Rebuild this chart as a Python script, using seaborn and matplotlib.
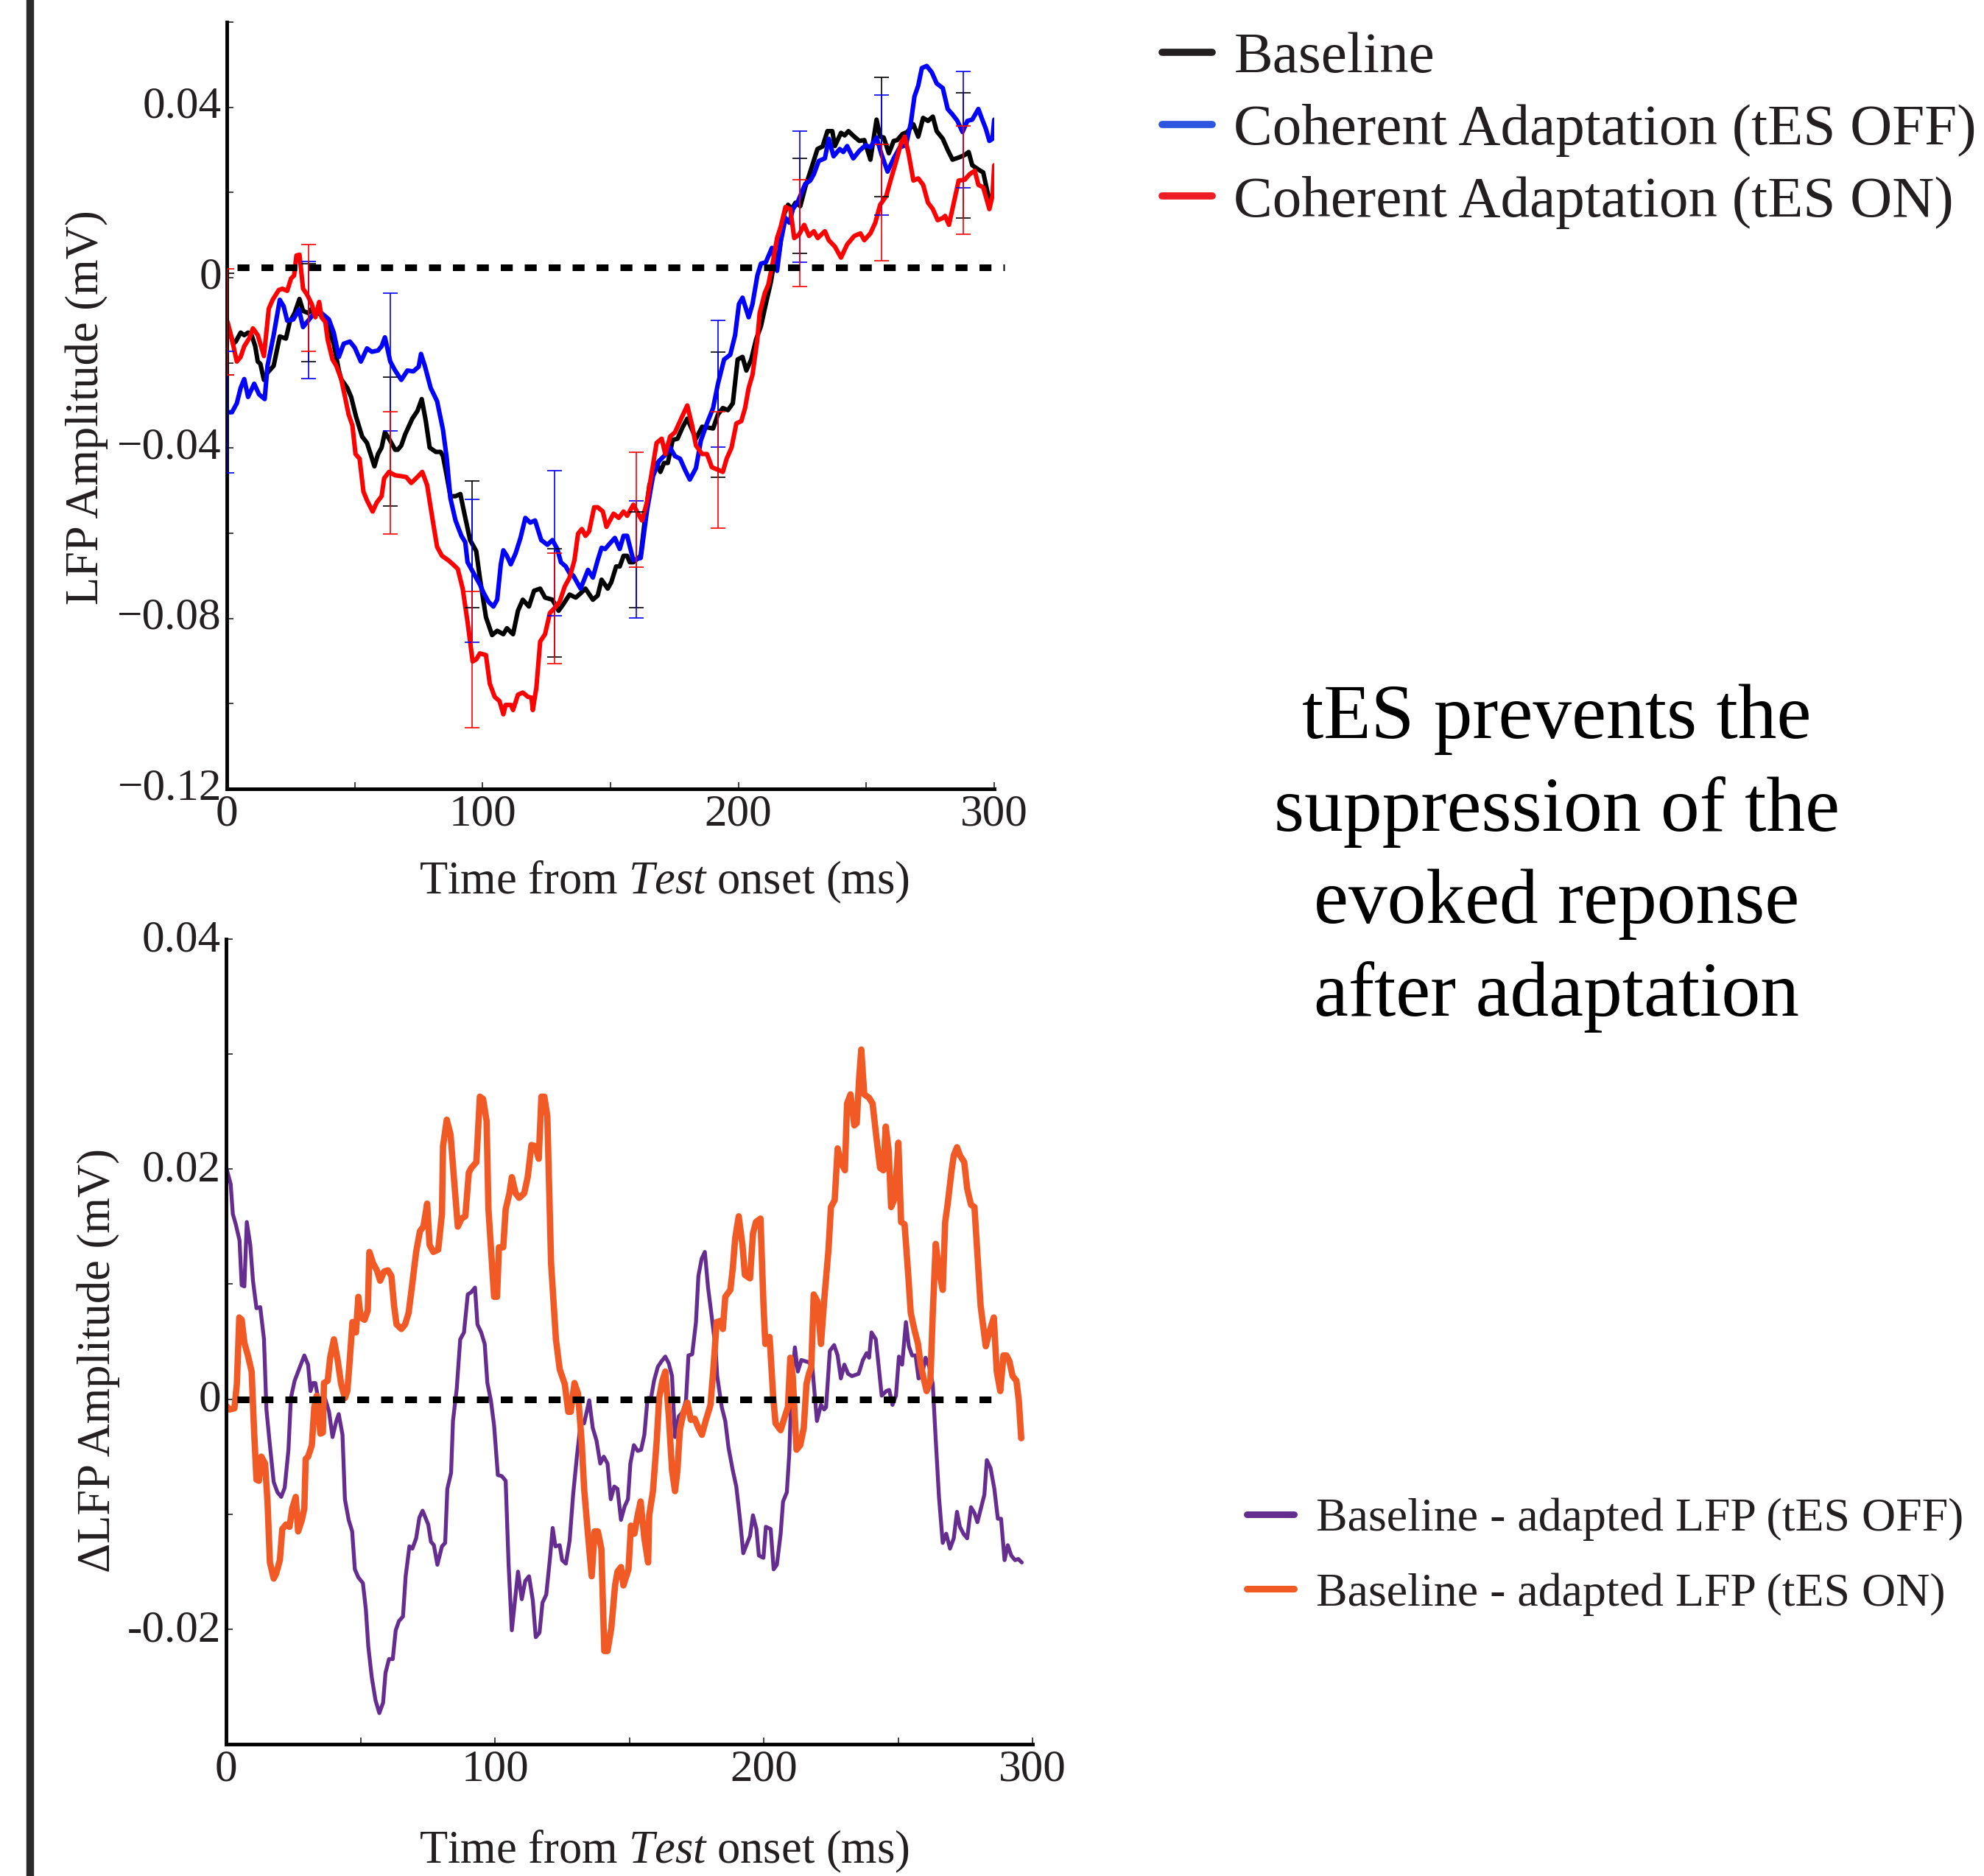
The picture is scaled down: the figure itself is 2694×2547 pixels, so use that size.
import numpy as np
import matplotlib
matplotlib.use("Agg")
import matplotlib.pyplot as plt
from matplotlib.lines import Line2D
from matplotlib.transforms import ScaledTranslation
import seaborn as sns

# ---------------- evoked LFP (mV) ----------------
t_base = [0.3, 2.5, 3.5, 5.4, 6.8, 8.3, 9.7, 11.1, 12.1, 13.1, 14.5, 15.9, 18.3, 20.7, 23.1, 24.6, 26.5,
          28.4, 29.8, 31.8, 33.2, 34.2, 35.6, 37.0, 38.5, 39.9, 41.8, 43.8, 44.7, 47.1, 48.6, 50.5, 52.9,
          54.8, 56.2, 57.7, 59.1, 60.5, 61.8, 63.4, 65.8, 66.8, 68.2, 69.7, 72.5, 74.5, 76.2, 77.8, 79.3,
          81.7, 83.6, 84.5, 86.0, 87.4, 89.4, 91.3, 92.7, 95.1, 97.5, 98.9, 101.3, 103.7, 105.7, 108.1,
          109.5, 111.9, 113.8, 115.7, 118.1, 120.1, 122.5, 124.4, 127.3, 129.7, 131.6, 134.0, 136.4,
          138.3, 140.2, 143.1, 145.0, 146.5, 148.9, 150.3, 152.2, 153.6, 155.1, 156.5, 157.5, 158.9,
          161.8, 163.2, 165.2, 168.0, 169.5, 170.9, 172.4, 174.3, 176.2, 178.1, 180.0, 181.9, 183.4,
          185.8, 188.2, 190.1, 192.0, 193.9, 195.9, 197.8, 199.7, 201.6, 203.1, 205.0, 206.9, 208.8,
          210.7, 212.7, 214.1, 216.0, 217.9, 219.4, 220.8, 222.3, 224.2, 226.1, 228.1, 230.9, 232.9,
          234.8, 236.7, 237.7, 240.1, 241.5, 243.0, 245.3, 247.3, 249.2, 251.6, 254.0, 255.4, 256.8,
          258.8, 260.7, 262.1, 264.1, 266.0, 268.4, 270.3, 272.2, 274.1, 276.0, 277.5, 279.9, 281.8,
          283.7, 286.1, 288.5, 290.0, 291.4, 293.8, 295.7, 298.1, 299.3, 300.0]
lfp_base = [-0.0109, -0.0155, -0.0150, -0.0129, -0.0135, -0.0129, -0.0135, -0.0161, -0.0197, -0.0202,
            -0.0240, -0.0223, -0.0207, -0.0138, -0.0143, -0.0104, -0.0083, -0.0050, -0.0078, -0.0083,
            -0.0073, -0.0088, -0.0083, -0.0088, -0.0098, -0.0124, -0.0155, -0.0218, -0.0238, -0.0259,
            -0.0280, -0.0326, -0.0373, -0.0388, -0.0414, -0.0443, -0.0414, -0.0399, -0.0363, -0.0378,
            -0.0404, -0.0404, -0.0394, -0.0368, -0.0331, -0.0313, -0.0285, -0.0337, -0.0399, -0.0409,
            -0.0409, -0.0419, -0.0466, -0.0513, -0.0513, -0.0508, -0.0549, -0.0616, -0.0642, -0.0704,
            -0.0797, -0.0839, -0.0829, -0.0837, -0.0823, -0.0837, -0.0782, -0.0756, -0.0772, -0.0735,
            -0.0730, -0.0751, -0.0756, -0.0782, -0.0766, -0.0744, -0.0751, -0.0741, -0.0730, -0.0756,
            -0.0746, -0.0709, -0.0730, -0.0715, -0.0678, -0.0678, -0.0653, -0.0653, -0.0668, -0.0668,
            -0.0653, -0.0580, -0.0487, -0.0435, -0.0456, -0.0435, -0.0435, -0.0381, -0.0378, -0.0352,
            -0.0331, -0.0357, -0.0378, -0.0350, -0.0352, -0.0354, -0.0321, -0.0306, -0.0311, -0.0295,
            -0.0192, -0.0186, -0.0218, -0.0192, -0.0145, -0.0114, -0.0062, -0.0010, 0.0041, 0.0062,
            0.0150, 0.0171, 0.0161, 0.0176, 0.0168, 0.0212, 0.0249, 0.0302, 0.0308, 0.0344, 0.0344,
            0.0309, 0.0340, 0.0334, 0.0344, 0.0331, 0.0321, 0.0323, 0.0277, 0.0371, 0.0331, 0.0329,
            0.0292, 0.0321, 0.0323, 0.0337, 0.0342, 0.0360, 0.0331, 0.0375, 0.0368, 0.0378, 0.0344,
            0.0326, 0.0300, 0.0277, 0.0282, 0.0288, 0.0295, 0.0264, 0.0254, 0.0247, 0.0181, 0.0192,
            0.0228]

t_off = [0.3, 2.0, 3.9, 5.4, 6.8, 8.3, 10.7, 12.6, 14.8, 15.9, 18.3, 20.7, 22.2, 23.6, 26.0, 28.2, 29.8,
         32.2, 34.2, 37.0, 39.9, 41.8, 43.8, 45.7, 48.1, 50.0, 52.4, 54.8, 56.7, 59.1, 60.5, 61.8, 63.9,
         65.8, 68.2, 70.6, 72.9, 75.0, 75.9, 77.4, 79.7, 82.2, 84.5, 86.0, 87.4, 89.4, 91.7, 93.2, 94.1,
         96.5, 98.9, 100.4, 102.3, 104.2, 105.7, 107.1, 108.1, 109.5, 111.0, 112.9, 114.8, 116.7, 118.6,
         120.5, 122.9, 125.3, 127.3, 129.2, 130.6, 132.5, 134.0, 135.4, 136.9, 138.3, 139.7, 141.2,
         143.1, 145.0, 146.5, 147.9, 149.3, 151.7, 153.6, 155.1, 156.5, 158.9, 161.8, 164.2, 166.6,
         169.0, 171.4, 173.3, 175.2, 177.2, 179.1, 181.0, 183.4, 185.3, 187.7, 190.1, 192.0, 194.4,
         196.8, 198.7, 200.2, 201.6, 204.0, 205.5, 207.4, 208.8, 210.7, 213.1, 215.1, 216.5, 218.4,
         219.9, 221.3, 223.2, 226.1, 228.1, 229.5, 231.4, 233.8, 235.3, 237.2, 239.6, 241.0, 242.5,
         244.9, 247.3, 249.7, 251.6, 254.0, 255.9, 258.3, 260.7, 263.1, 265.5, 267.4, 268.8, 270.3,
         271.7, 273.6, 275.6, 277.5, 279.9, 281.8, 283.7, 285.6, 287.6, 289.5, 291.4, 293.8, 295.2,
         296.7, 298.1, 299.3, 300.0]
lfp_off = [-0.0316, -0.0316, -0.0295, -0.0259, -0.0238, -0.0280, -0.0249, -0.0274, -0.0285, -0.0207,
           -0.0135, -0.0052, -0.0067, -0.0101, -0.0098, -0.0075, -0.0116, -0.0098, -0.0083, -0.0083,
           -0.0098, -0.0129, -0.0186, -0.0155, -0.0150, -0.0164, -0.0197, -0.0166, -0.0174, -0.0171,
           -0.0161, -0.0140, -0.0197, -0.0218, -0.0240, -0.0218, -0.0220, -0.0209, -0.0179, -0.0207,
           -0.0259, -0.0290, -0.0357, -0.0425, -0.0518, -0.0570, -0.0606, -0.0621, -0.0668, -0.0694,
           -0.0720, -0.0740, -0.0761, -0.0772, -0.0756, -0.0673, -0.0640, -0.0653, -0.0673, -0.0647,
           -0.0611, -0.0564, -0.0575, -0.0570, -0.0616, -0.0627, -0.0616, -0.0637, -0.0668, -0.0678,
           -0.0694, -0.0699, -0.0715, -0.0730, -0.0709, -0.0686, -0.0704, -0.0663, -0.0634, -0.0637,
           -0.0627, -0.0611, -0.0637, -0.0606, -0.0606, -0.0663, -0.0658, -0.0549, -0.0466, -0.0430,
           -0.0416, -0.0399, -0.0419, -0.0425, -0.0451, -0.0474, -0.0447, -0.0383, -0.0342, -0.0306,
           -0.0249, -0.0192, -0.0181, -0.0135, -0.0062, -0.0047, -0.0093, -0.0062, 0.0005, 0.0033,
           0.0036, 0.0070, 0.0016, 0.0083, 0.0140, 0.0129, 0.0161, 0.0178, 0.0220, 0.0228, 0.0243,
           0.0274, 0.0280, 0.0326, 0.0285, 0.0302, 0.0295, 0.0309, 0.0280, 0.0298, 0.0311, 0.0306,
           0.0329, 0.0290, 0.0249, 0.0280, 0.0306, 0.0311, 0.0363, 0.0425, 0.0451, 0.0492, 0.0497,
           0.0482, 0.0456, 0.0445, 0.0396, 0.0383, 0.0368, 0.0342, 0.0368, 0.0371, 0.0396, 0.0373,
           0.0350, 0.0321, 0.0326, 0.0371]

t_on = [0.3, 2.0, 3.9, 5.4, 6.8, 8.7, 10.2, 12.1, 14.5, 16.4, 17.9, 20.3, 21.7, 23.6, 25.1, 26.3, 27.2,
        28.4, 29.8, 31.3, 33.2, 34.6, 36.1, 37.0, 38.5, 39.4, 41.3, 42.8, 44.7, 46.2, 47.6, 49.1, 50.3,
        51.9, 53.4, 54.8, 57.0, 58.6, 60.5, 61.5, 63.4, 65.8, 68.2, 70.1, 72.1, 74.5, 76.4, 78.3, 80.2,
        82.2, 84.1, 86.5, 88.4, 90.3, 92.2, 94.1, 96.1, 97.5, 98.9, 101.3, 102.8, 104.7, 106.6, 108.1,
        109.0, 111.0, 111.9, 113.8, 115.7, 117.7, 119.1, 119.6, 121.0, 122.5, 124.4, 126.3, 128.2,
        130.1, 132.1, 134.0, 135.9, 137.3, 138.8, 140.2, 141.6, 143.6, 145.0, 147.0, 148.4, 150.3,
        151.2, 153.2, 155.1, 156.5, 158.9, 160.8, 162.3, 164.2, 166.6, 168.0, 170.0, 171.4, 173.3,
        175.2, 177.6, 180.0, 181.9, 183.4, 185.8, 187.7, 189.6, 192.0, 193.9, 195.4, 197.3, 199.2,
        201.1, 202.6, 204.0, 205.5, 207.4, 208.3, 210.3, 211.7, 213.6, 215.1, 216.5, 218.4, 220.3,
        221.8, 223.7, 225.7, 227.6, 229.5, 231.0, 233.8, 235.3, 237.7, 240.1, 242.5, 245.3, 247.7,
        249.2, 251.6, 253.5, 255.4, 257.8, 259.7, 261.7, 263.6, 265.0, 266.4, 268.4, 270.3, 272.2,
        274.1, 276.0, 277.9, 279.9, 280.8, 282.3, 284.2, 286.1, 288.5, 290.4, 292.4, 293.8, 295.7,
        298.1, 299.3, 300.0]
lfp_on = [-0.0104, -0.0145, -0.0197, -0.0186, -0.0161, -0.0143, -0.0119, -0.0135, -0.0184, -0.0073,
          -0.0052, -0.0029, -0.0026, -0.0031, -0.0002, 0.0005, 0.0052, 0.0054, -0.0026, -0.0039,
          -0.0062, -0.0093, -0.0057, -0.0093, -0.0104, -0.0145, -0.0192, -0.0207, -0.0238, -0.0280,
          -0.0321, -0.0347, -0.0414, -0.0425, -0.0502, -0.0523, -0.0549, -0.0528, -0.0513, -0.0471,
          -0.0456, -0.0464, -0.0466, -0.0468, -0.0482, -0.0468, -0.0456, -0.0487, -0.0559, -0.0632,
          -0.0653, -0.0663, -0.0673, -0.0684, -0.0730, -0.0808, -0.0901, -0.0896, -0.0882, -0.0886,
          -0.0953, -0.0984, -0.0994, -0.1025, -0.1003, -0.1003, -0.1015, -0.0979, -0.0974, -0.0984,
          -0.0986, -0.1015, -0.0963, -0.0854, -0.0837, -0.0787, -0.0775, -0.0761, -0.0725, -0.0704,
          -0.0663, -0.0601, -0.0590, -0.0606, -0.0596, -0.0539, -0.0539, -0.0549, -0.0585, -0.0564,
          -0.0554, -0.0564, -0.0549, -0.0559, -0.0533, -0.0554, -0.0570, -0.0528, -0.0440, -0.0388,
          -0.0378, -0.0414, -0.0373, -0.0363, -0.0331, -0.0300, -0.0347, -0.0394, -0.0414, -0.0414,
          -0.0445, -0.0451, -0.0456, -0.0425, -0.0399, -0.0342, -0.0337, -0.0306, -0.0259, -0.0228,
          -0.0145, -0.0083, -0.0036, -0.0016, 0.0041, 0.0093, 0.0119, 0.0166, 0.0161, 0.0093, 0.0101,
          0.0124, 0.0098, 0.0109, 0.0093, 0.0109, 0.0088, 0.0073, 0.0047, 0.0078, 0.0098, 0.0104,
          0.0088, 0.0104, 0.0129, 0.0171, 0.0192, 0.0233, 0.0274, 0.0316, 0.0331, 0.0295, 0.0228,
          0.0233, 0.0218, 0.0176, 0.0161, 0.0135, 0.0140, 0.0145, 0.0124, 0.0176, 0.0228, 0.0230,
          0.0243, 0.0251, 0.0218, 0.0212, 0.0161, 0.0192, 0.0264]

# error bars: sample times and s.e.m. (mV)
err_t = [0, 32, 64, 96, 128, 160, 192, 224, 256, 288]
sem_base = [0.0120, 0.0115, 0.0151, 0.0149, 0.0127, 0.0112, 0.0147, 0.0111, 0.0140, 0.0147]
sem_off = [0.0143, 0.0137, 0.0162, 0.0168, 0.0170, 0.0138, 0.0149, 0.0154, 0.0141, 0.0137]
sem_on = [0.0125, 0.0126, 0.0144, 0.0160, 0.0130, 0.0135, 0.0137, 0.0125, 0.0136, 0.0127]

# ---------------- difference traces (mV) ----------------
t_diff_off = [0.1, 1.7, 2.5, 3.6, 5.0, 5.8, 6.8, 7.7, 9.0, 10.0, 11.3, 12.7, 14.1, 15.0, 16.3, 17.7,
              19.1, 20.5, 21.8, 23.2, 24.1, 25.5, 27.3, 29.1, 30.5, 31.4, 32.3, 33.2, 34.2, 35.5, 36.9,
              38.3, 39.6, 41.0, 41.9, 43.3, 44.2, 45.6, 46.9, 47.9, 49.2, 50.9, 52.0, 52.9, 54.2, 55.6,
              57.0, 58.4, 59.3, 60.6, 62.0, 63.1, 64.3, 65.8, 66.8, 68.2, 69.3, 70.7, 71.9, 73.1, 75.2,
              76.2, 77.3, 78.6, 80.3, 81.5, 82.3, 83.7, 84.4, 85.8, 87.1, 88.5, 89.9, 91.2, 92.6, 93.5,
              94.9, 96.2, 97.2, 98.5, 99.7, 101.1, 102.6, 104.0, 105.1, 106.3, 107.7, 108.6, 110.0,
              111.3, 112.7, 114.1, 115.2, 116.6, 117.7, 119.1, 120.5, 121.5, 122.5, 124.1, 125.0,
              126.4, 127.8, 129.1, 130.5, 131.9, 133.2, 135.1, 136.4, 137.8, 139.2, 140.5, 141.9,
              143.1, 144.4, 145.6, 146.9, 148.3, 149.5, 150.4, 151.7, 153.1, 154.4, 155.6, 156.8,
              158.1, 159.2, 160.6, 162.0, 163.4, 164.7, 165.9, 167.0, 168.4, 169.9, 171.1, 172.0,
              173.4, 174.8, 175.7, 176.9, 178.1, 179.3, 180.7, 182.1, 182.7, 184.4, 185.7, 186.9,
              188.5, 189.8, 191.2, 192.4, 193.9, 194.9, 196.0, 197.3, 198.2, 199.9, 200.8, 202.6,
              203.7, 204.9, 206.3, 207.2, 208.6, 209.5, 210.4, 211.6, 212.7, 214.0, 215.4, 216.8,
              218.1, 219.8, 221.3, 222.5, 223.2, 224.6, 226.2, 227.5, 228.7, 230.0, 231.4, 232.8,
              235.3, 236.9, 238.3, 239.2, 240.1, 241.7, 242.8, 243.9, 245.6, 246.7, 247.9, 249.2,
              250.3, 251.5, 252.9, 254.0, 255.2, 256.5, 257.6, 258.8, 260.2, 261.6, 262.9, 263.8,
              265.2, 266.6, 267.9, 269.3, 270.7, 271.9, 273.0, 274.3, 275.7, 277.1, 278.4, 279.5,
              281.0, 282.1, 283.0, 284.4, 285.8, 287.1, 288.3, 289.6, 290.8, 292.1, 293.5, 294.7, 296.0]
dlfp_off = [0.0201, 0.0187, 0.0161, 0.0152, 0.0138, 0.0099, 0.0098, 0.0154, 0.0134, 0.0103, 0.0079,
            0.0080, 0.0052, -0.0009, -0.0040, -0.0072, -0.0081, -0.0085, -0.0077, -0.0044, 0.0001,
            0.0016, 0.0027, 0.0038, 0.0030, 0.0007, 0.0014, 0.0014, 0.0001, -0.0007, 0.0000, -0.0011,
            -0.0033, -0.0019, -0.0013, -0.0031, -0.0087, -0.0105, -0.0115, -0.0148, -0.0155, -0.0160,
            -0.0183, -0.0215, -0.0242, -0.0262, -0.0273, -0.0264, -0.0238, -0.0226, -0.0226, -0.0201,
            -0.0193, -0.0189, -0.0154, -0.0128, -0.0130, -0.0121, -0.0103, -0.0097, -0.0109, -0.0124,
            -0.0127, -0.0144, -0.0128, -0.0125, -0.0078, -0.0064, -0.0019, 0.0009, 0.0052, 0.0058,
            0.0091, 0.0093, 0.0097, 0.0065, 0.0058, 0.0048, 0.0014, -0.0001, -0.0023, -0.0066,
            -0.0067, -0.0071, -0.0144, -0.0201, -0.0170, -0.0150, -0.0174, -0.0158, -0.0154, -0.0175,
            -0.0207, -0.0203, -0.0177, -0.0170, -0.0138, -0.0112, -0.0128, -0.0127, -0.0140, -0.0143,
            -0.0123, -0.0083, -0.0050, -0.0021, -0.0021, -0.0001, -0.0025, -0.0036, -0.0056, -0.0050,
            -0.0056, -0.0087, -0.0076, -0.0078, -0.0105, -0.0093, -0.0087, -0.0056, -0.0040, -0.0045,
            -0.0044, -0.0031, 0.0001, 0.0001, 0.0016, 0.0028, 0.0033, 0.0037, 0.0031, 0.0020, -0.0033,
            -0.0015, -0.0011, -0.0001, 0.0038, 0.0039, 0.0067, 0.0107, 0.0122, 0.0128, 0.0097, 0.0071,
            0.0044, 0.0020, -0.0007, -0.0019, -0.0042, -0.0062, -0.0076, -0.0105, -0.0134, -0.0125,
            -0.0119, -0.0101, -0.0113, -0.0136, -0.0138, -0.0111, -0.0113, -0.0148, -0.0144, -0.0117,
            -0.0089, -0.0081, -0.0048, 0.0013, 0.0045, 0.0024, 0.0034, 0.0033, 0.0032, 0.0028,
            -0.0019, -0.0005, -0.0009, -0.0007, 0.0042, 0.0047, 0.0038, 0.0018, 0.0030, 0.0022,
            0.0020, 0.0022, 0.0034, 0.0040, 0.0036, 0.0058, 0.0052, 0.0028, 0.0003, 0.0007, 0.0008,
            -0.0005, 0.0003, 0.0037, 0.0030, 0.0067, 0.0046, 0.0038, 0.0038, 0.0018, 0.0020, 0.0036,
            0.0028, 0.0013, -0.0027, -0.0085, -0.0125, -0.0117, -0.0130, -0.0121, -0.0098, -0.0111,
            -0.0117, -0.0121, -0.0094, -0.0099, -0.0107, -0.0093, -0.0083, -0.0053, -0.0060, -0.0078,
            -0.0104, -0.0104, -0.0140, -0.0127, -0.0136, -0.0140, -0.0139, -0.0142]

t_diff_on = [0.1, 1.3, 3.1, 4.0, 4.9, 5.8, 6.8, 8.1, 9.5, 10.4, 11.3, 12.2, 13.1, 14.5, 15.4, 16.3, 17.7,
             18.6, 20.0, 20.9, 22.3, 23.6, 24.6, 25.9, 26.8, 28.2, 29.1, 29.6, 30.5, 31.9, 32.8, 33.7,
             35.1, 36.0, 36.4, 37.8, 38.7, 40.1, 41.5, 42.8, 44.2, 45.1, 46.0, 47.0, 48.3, 49.2, 50.1,
             51.5, 52.7, 53.3, 54.7, 56.1, 57.3, 58.8, 60.2, 61.5, 62.5, 63.4, 65.2, 66.6, 67.9, 69.3,
             70.7, 72.1, 73.4, 74.8, 75.7, 77.1, 78.9, 80.3, 80.7, 82.1, 83.5, 84.8, 86.2, 87.6, 89.0,
             90.3, 91.2, 93.1, 94.4, 95.6, 96.9, 97.6, 98.5, 99.7, 100.8, 101.5, 103.1, 104.0, 105.4,
             106.3, 107.7, 109.0, 110.9, 112.2, 113.6, 115.0, 116.3, 117.3, 118.4, 119.5, 120.9, 122.7,
             124.1, 126.0, 127.3, 128.2, 129.6, 130.9, 132.3, 133.2, 134.6, 136.0, 137.1, 138.3, 139.6,
             140.7, 141.9, 143.3, 144.7, 145.6, 146.9, 147.8, 149.7, 150.6, 151.9, 153.1, 154.2, 155.6,
             157.0, 157.4, 158.8, 160.2, 161.1, 162.3, 163.4, 164.7, 165.9, 167.0, 167.9, 168.8, 170.2,
             171.6, 172.9, 174.3, 175.7, 177.0, 178.4, 180.2, 181.2, 182.5, 183.9, 184.8, 185.7, 187.6,
             188.5, 189.4, 190.7, 192.1, 193.0, 194.9, 196.0, 197.1, 198.8, 199.9, 200.6, 202.2, 203.5,
             204.4, 206.3, 207.6, 209.0, 209.9, 210.8, 212.2, 213.6, 214.9, 215.9, 216.8, 217.7, 218.6,
             220.0, 221.3, 222.6, 224.1, 225.0, 226.4, 227.5, 228.7, 230.2, 231.0, 232.3, 233.7, 234.6,
             235.5, 236.3, 237.4, 239.2, 240.5, 241.9, 243.3, 244.5, 245.4, 246.5, 247.4, 248.8, 250.1,
             251.1, 252.4, 253.8, 254.7, 256.1, 257.4, 258.4, 259.7, 260.6, 262.0, 262.9, 264.0, 265.2,
             266.6, 267.5, 268.4, 269.8, 270.7, 271.9, 273.0, 274.6, 275.7, 277.1, 278.4, 279.4, 280.7,
             282.6, 283.9, 285.6, 286.7, 288.0, 289.2, 290.3, 291.4, 292.6, 294.0, 294.9, 295.8]
dlfp_on = [-0.0006, -0.0009, -0.0008, 0.0013, 0.0071, 0.0069, 0.0049, 0.0038, 0.0024, -0.0027, -0.0070,
           -0.0071, -0.0050, -0.0056, -0.0089, -0.0142, -0.0156, -0.0152, -0.0140, -0.0113, -0.0109,
           -0.0111, -0.0095, -0.0085, -0.0115, -0.0105, -0.0095, -0.0052, -0.0050, -0.0040, -0.0007,
           0.0003, -0.0030, -0.0029, 0.0014, 0.0016, 0.0036, 0.0052, 0.0034, 0.0013, 0.0001, 0.0007,
           0.0034, 0.0067, 0.0058, 0.0089, 0.0071, 0.0069, 0.0077, 0.0128, 0.0118, 0.0112, 0.0103,
           0.0111, 0.0112, 0.0107, 0.0081, 0.0065, 0.0061, 0.0065, 0.0075, 0.0101, 0.0128, 0.0146,
           0.0150, 0.0170, 0.0134, 0.0128, 0.0130, 0.0161, 0.0220, 0.0243, 0.0230, 0.0191, 0.0150,
           0.0157, 0.0159, 0.0197, 0.0201, 0.0206, 0.0263, 0.0261, 0.0242, 0.0165, 0.0132, 0.0089,
           0.0089, 0.0132, 0.0132, 0.0165, 0.0179, 0.0193, 0.0179, 0.0175, 0.0179, 0.0193, 0.0221,
           0.0220, 0.0209, 0.0263, 0.0263, 0.0246, 0.0118, 0.0052, 0.0026, 0.0013, -0.0011, -0.0011,
           0.0014, 0.0005, -0.0038, -0.0078, -0.0117, -0.0154, -0.0115, -0.0115, -0.0130, -0.0219,
           -0.0219, -0.0199, -0.0162, -0.0150, -0.0146, -0.0162, -0.0148, -0.0110, -0.0117, -0.0101,
           -0.0089, -0.0121, -0.0142, -0.0101, -0.0080, -0.0036, 0.0001, 0.0016, 0.0024, -0.0015,
           -0.0062, -0.0080, -0.0062, -0.0027, -0.0011, -0.0003, -0.0018, -0.0017, -0.0025, -0.0031,
           -0.0019, -0.0005, 0.0024, 0.0067, 0.0068, 0.0061, 0.0089, 0.0095, 0.0114, 0.0140, 0.0159,
           0.0134, 0.0108, 0.0105, 0.0144, 0.0154, 0.0157, 0.0083, 0.0048, 0.0054, 0.0003, -0.0021,
           -0.0027, -0.0017, -0.0007, 0.0036, 0.0020, -0.0044, -0.0040, -0.0025, 0.0013, 0.0022,
           0.0028, 0.0091, 0.0085, 0.0048, 0.0089, 0.0130, 0.0167, 0.0173, 0.0218, 0.0206, 0.0199,
           0.0257, 0.0265, 0.0238, 0.0240, 0.0279, 0.0304, 0.0265, 0.0262, 0.0257, 0.0228, 0.0201,
           0.0199, 0.0237, 0.0216, 0.0167, 0.0175, 0.0223, 0.0154, 0.0152, 0.0107, 0.0075, 0.0060,
           0.0048, 0.0030, 0.0016, 0.0007, 0.0016, 0.0075, 0.0135, 0.0112, 0.0095, 0.0154, 0.0169,
           0.0197, 0.0212, 0.0219, 0.0212, 0.0206, 0.0183, 0.0169, 0.0167, 0.0130, 0.0081, 0.0046,
           0.0058, 0.0071, 0.0024, 0.0007, 0.0038, 0.0038, 0.0033, 0.0020, 0.0016, -0.0001, -0.0034]

# ---------------- text ----------------
legend_top = ["Baseline", "Coherent Adaptation (tES OFF)", "Coherent Adaptation (tES ON)"]
legend_bottom = ["Baseline - adapted LFP (tES OFF)", "Baseline - adapted LFP (tES ON)"]
top_yticks = [0.04, 0.0, -0.04, -0.08, -0.12]
top_ytick_labels = ["0.04", "0", "\u22120.04", "\u22120.08", "\u22120.12"]
top_yticks_minor = [0.06, 0.02, -0.02, -0.06, -0.10]
bot_yticks = [0.04, 0.02, 0.0, -0.02]
bot_ytick_labels = ["0.04", "0.02", "0", "-0.02"]
bot_yticks_minor = [0.03, 0.01, -0.01]
xticks = [0, 100, 200, 300]
xtick_labels = ["0", "100", "200", "300"]
xticks_minor = [50, 150, 250]
x_label = "Time from $\\mathit{Test}$ onset (ms)"
message = "tES prevents the\nsuppression of the\nevoked reponse\nafter adaptation"

# ---------------- styling ----------------
INK = "#231f20"
C_BASE, C_OFF, C_ON = "#000000", "#0000ff", "#ff0000"
C_DOFF, C_DON = "#662d91", "#f15a24"

sns.set_style("ticks")
plt.rcParams["font.family"] = ["Liberation Serif", "DejaVu Serif"]
plt.rcParams["mathtext.fontset"] = "custom"
plt.rcParams["mathtext.rm"] = "Liberation Serif"
plt.rcParams["mathtext.it"] = "Liberation Serif:italic"
plt.rcParams["text.color"] = INK
plt.rcParams["axes.labelcolor"] = INK

fig = plt.figure(figsize=(26.94, 25.47), dpi=100)
ax_top = fig.add_axes([0.11433, 0.57951, 0.38679, 0.40872])
ax_bot = fig.add_axes([0.11396, 0.07028, 0.40646, 0.42913])

# evoked responses
for t, v, c in [(t_base, lfp_base, C_BASE), (t_off, lfp_off, C_OFF), (t_on, lfp_on, C_ON)]:
    sns.lineplot(x=t, y=v, ax=ax_top, color=c, lw=4.4, estimator=None, sort=False)
for t, v, s, c in [(t_base, lfp_base, sem_base, C_BASE), (t_off, lfp_off, sem_off, C_OFF),
                   (t_on, lfp_on, sem_on, C_ON)]:
    centers = np.interp(err_t, t, v)
    ax_top.errorbar(err_t, centers, yerr=s, fmt="none", ecolor=c, elinewidth=1.2,
                    capsize=7.2, capthick=1.2, zorder=4)
ax_top.plot([4, 304], [0.0024, 0.0024], color="black", lw=6.5, ls=(0, (1.8, 1.8)),
            dash_capstyle="butt", clip_on=False, zorder=5)

# difference traces
sns.lineplot(x=t_diff_off, y=dlfp_off, ax=ax_bot, color=C_DOFF, lw=3.8, estimator=None, sort=False)
sns.lineplot(x=t_diff_on, y=dlfp_on, ax=ax_bot, color=C_DON, lw=6.2, estimator=None, sort=False)
ax_bot.plot([4, 289], [0, 0], color="black", lw=6.5, ls=(0, (1.8, 1.8)),
            dash_capstyle="butt", clip_on=False, zorder=5)

# axes cosmetics
for ax in (ax_top, ax_bot):
    ax.set_xlim(0, 300)
    ax.set_xticks(xticks)
    ax.set_xticklabels(xtick_labels)
    ax.set_xticks(xticks_minor, minor=True)
    for side in ("top", "right"):
        ax.spines[side].set_visible(False)
    for side in ("left", "bottom"):
        ax.spines[side].set_linewidth(3.5)
        ax.spines[side].set_color("black")
    ax.tick_params(which="both", direction="in", length=6.5, width=1.2, colors=INK,
                   labelsize=44, pad=5)
    ax.set_facecolor("white")

ax_top.set_ylim(-0.12, 0.06)
ax_top.set_yticks(top_yticks)
ax_top.set_yticklabels(top_ytick_labels)
ax_top.set_yticks(top_yticks_minor, minor=True)
ax_bot.set_ylim(-0.03, 0.04)
ax_bot.set_yticks(bot_yticks)
ax_bot.set_yticklabels(bot_ytick_labels)
ax_bot.set_yticks(bot_yticks_minor, minor=True)

# y tick labels sit slightly above their ticks
for ax, lift in ((ax_top, 0.07), (ax_bot, 0.05)):
    shift = ScaledTranslation(0, lift, fig.dpi_scale_trans)
    for lbl in ax.get_yticklabels():
        lbl.set_transform(lbl.get_transform() + shift)

ax_top.set_xlabel(x_label, fontsize=45, va="center")
ax_top.xaxis.set_label_coords(0.570, -0.122)
ax_top.set_ylabel("LFP Amplitude (mV)", fontsize=45, va="center")
ax_top.yaxis.set_label_coords(-0.183, 0.497)
ax_bot.set_xlabel(x_label, fontsize=45, va="center")
ax_bot.xaxis.set_label_coords(0.5434, -0.1336)
ax_bot.set_ylabel("\u0394LFP Amplitude (mV)", fontsize=45, va="center")
ax_bot.yaxis.set_label_coords(-0.158, 0.477)

# legends
h_top = [Line2D([], [], color=INK, lw=7), Line2D([], [], color="#2d55e0", lw=7),
         Line2D([], [], color="#ee1c24", lw=7)]
fig.legend(h_top, legend_top, loc="center left", bbox_to_anchor=(0.5857, 0.9305),
           frameon=False, fontsize=57, handlelength=0.86, handletextpad=0.37,
           labelspacing=0.32, borderpad=0, borderaxespad=0)
h_bot = [Line2D([], [], color=C_DOFF, lw=6.5), Line2D([], [], color=C_DON, lw=6.5)]
fig.legend(h_bot, legend_bottom, loc="center left", bbox_to_anchor=(0.6284, 0.1702),
           frameon=False, fontsize=46, handlelength=1.0, handletextpad=0.48,
           labelspacing=0.67, borderpad=0, borderaxespad=0)

fig.text(0.7847, 0.5425, message, ha="center", va="center", fontsize=76, linespacing=1.39,
         multialignment="center", color="black")

# panel divider on the left edge
fig.add_artist(Line2D([0.0152, 0.0152], [0, 1], transform=fig.transFigure, color="#2b2b2b", lw=7.5))

fig.savefig("out.png", dpi=100, facecolor="white")
